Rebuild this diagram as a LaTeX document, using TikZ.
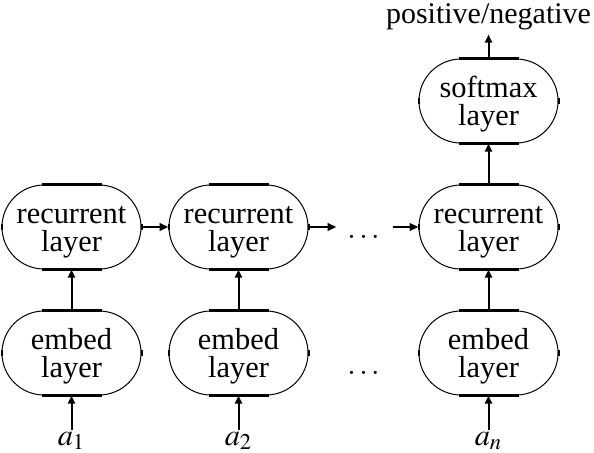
\documentclass[tikz,border=0pt]{standalone}
\usepackage{mathptmx}
\usepackage{fontspec}
\setmainfont{Liberation Serif}
\usetikzlibrary{positioning,arrows.meta,calc}
\tikzset{
  layerbox/.style={draw, line width=0.5pt, rounded corners=21pt,
    minimum width=69.5pt, minimum height=42pt, inner sep=0pt, align=center,
    text height=28pt, font=\fontsize{15.2}{14}\selectfont},
  flatedge/.style={line width=1.5pt},
  sidetick/.style={line width=1pt},
  link/.style={line width=1pt, -{Triangle[length=4pt,width=3.5pt]}},
  hlink/.style={line width=1.3pt, -{Triangle[length=4.5pt,width=3.8pt]}},
  gapdots/.style={inner sep=0pt, font=\fontsize{15.2}{14}\selectfont},
  inlabel/.style={inner sep=1pt, font=\fontsize{15.2}{14}\selectfont},
  outlabel/.style={inner sep=2pt, font=\fontsize{15}{14}\selectfont}
}
\begin{document}
\begin{tikzpicture}[node distance=20.5pt and 13.5pt]
    \useasboundingbox (0,0) rectangle (297pt,-226pt);

    % recurrent row
    \node[layerbox] (rec1) at (35.75pt,-113.5pt) {recurrent\\layer};
    \node[layerbox, right=of rec1] (rec2) {recurrent\\layer};
    \node[layerbox, right=55pt of rec2] (rec3) {recurrent\\layer};
    \node[layerbox, above=of rec3] (soft) {softmax\\layer};

    % embed row
    \node[layerbox, below=of rec1] (emb1) {embed\\layer};
    \node[layerbox, below=of rec2] (emb2) {embed\\layer};
    \node[layerbox, below=of rec3] (emb3) {embed\\layer};

    \foreach \n in {rec1,rec2,rec3,soft,emb1,emb2,emb3} {
      \draw[flatedge] ([xshift=-15pt]\n.north) -- ([xshift=15pt]\n.north);
      \draw[flatedge] ([xshift=-15pt]\n.south) -- ([xshift=15pt]\n.south);
      \draw[sidetick] ([yshift=-1.3pt]\n.west) -- ([yshift=1.3pt]\n.west);
      \draw[sidetick] ([yshift=-1.3pt]\n.east) -- ([yshift=1.3pt]\n.east);
    }

    % inputs
    \node[inlabel, below=17pt of emb1] (a1) {$a_1$};
    \node[inlabel, below=17pt of emb2] (a2) {$a_2$};
    \node[inlabel, below=17pt of emb3] (an) {$a_n$};

    % output
    \node[outlabel, above=12pt of soft] (out) {positive/negative};

    % gaps
    \coordinate[right=14pt of rec2.east] (r2out);
    \coordinate[left=13pt of rec3.west] (r3in);
    \node[gapdots, yshift=-5pt] (rdots) at ($(rec2.east)!0.5!(rec3.west)$) {$\ldots$};
    \node[gapdots, yshift=-10pt] (edots) at ($(emb2.east)!0.5!(emb3.west)$) {$\ldots$};

    \draw[hlink] (rec1) -- (rec2);
    \draw[hlink] (rec2) -- (r2out);
    \draw[hlink] (r3in) -- (rec3);

    \draw[link] (a1) -- (emb1);
    \draw[link] (a2) -- (emb2);
    \draw[link] (an) -- (emb3);
    \draw[link] (emb1) -- (rec1);
    \draw[link] (emb2) -- (rec2);
    \draw[link] (emb3) -- (rec3);
    \draw[link] (rec3) -- (soft);
    \draw[link] (soft) -- (out);
\end{tikzpicture}
\end{document}
